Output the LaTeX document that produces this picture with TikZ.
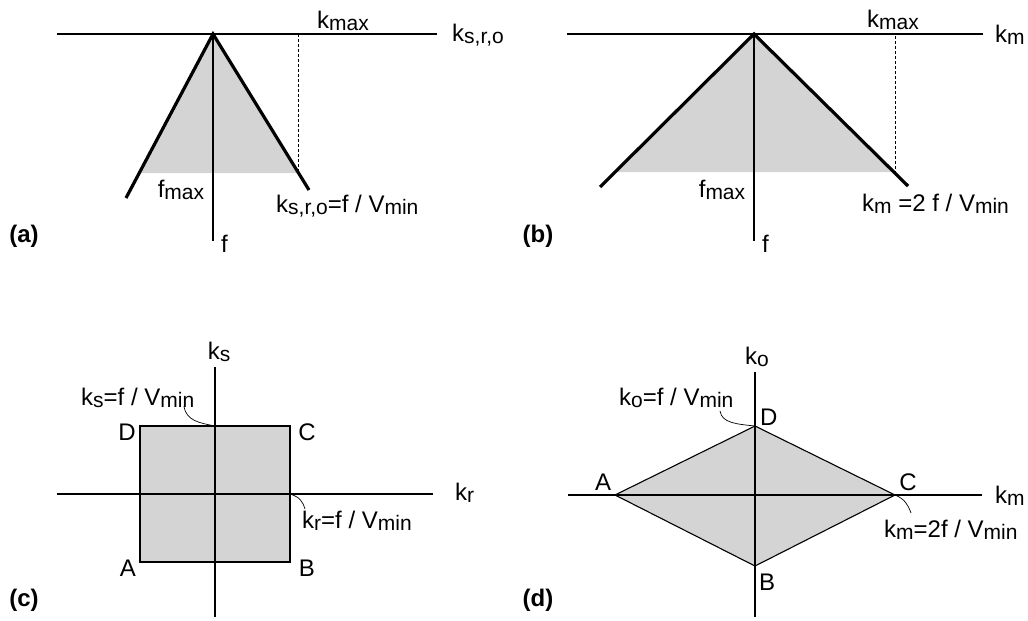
\documentclass[tikz,border=0pt]{standalone}
\usepackage{fontspec}
\setmainfont{Liberation Sans}
\newcommand{\lsub}[1]{{\fontsize{21}{21}\selectfont\raisebox{-1.5pt}{#1}}}
\begin{document}
\begin{tikzpicture}[x=1pt,y=-1pt,
 lbl/.style={inner sep=0pt,font=\fontsize{24}{26}\selectfont},
 panel/.style={inner sep=0pt,font=\fontsize{24}{26}\selectfont\bfseries},
 axis/.style={line width=1.5pt},
 heavy/.style={line width=3.2pt},
 edge/.style={line width=1.1pt},
 shade/.style={fill=black!17},
 lead/.style={line width=0.7pt},
 guide/.style={densely dashed,line width=0.7pt}]
\useasboundingbox (0,0) rectangle (1028,621);
% ---------- (a)
\coordinate (aO) at (213,34);
\coordinate (aL) at (57,34); \coordinate (aR) at (437,34);
\coordinate (aF) at (213,241);
\coordinate (aLe) at (126,198);
\coordinate (aRe) at (309,190);
\coordinate (aSL) at (139,173);
\coordinate (aSR) at (298.5,173);
\coordinate (aGt) at (298.5,34);
\fill[shade] (aO) -- (aSL) -- (aSR) -- cycle;
\draw[axis] (aL) -- (aR);
\draw[axis] (aO) -- (aF);
\draw[heavy] (aLe) -- (aO) -- (aRe);
\draw[guide] (aGt) -- (aSR);
\node[lbl,anchor=west] (aAx) at (452,35) {k\lsub{s,r,o}};
\node[lbl] (aKmax) at (343,21) {k\lsub{max}};
\node[lbl] (aFmax) at (181,190) {f\lsub{max}};
\node[lbl,anchor=west] (aF1) at (221,244) {f};
\node[lbl,anchor=west] (aEq) at (276,206) {k\lsub{s,r,o}=f / V\lsub{min}};
\node[panel] (aP) at (24,236) {(a)};
% ---------- (b)
\coordinate (bO) at (754,34);
\coordinate (bL) at (567,34); \coordinate (bR) at (983,34);
\coordinate (bF) at (754,241);
\coordinate (bLe) at (600,187);
\coordinate (bRe) at (908,186);
\coordinate (bSL) at (615,172);
\coordinate (bSR) at (895,172);
\coordinate (bGt) at (895,36);
\fill[shade] (bO) -- (bSL) -- (bSR) -- cycle;
\draw[axis] (bL) -- (bR);
\draw[axis] (bO) -- (bF);
\draw[heavy] (bLe) -- (bO) -- (bRe);
\draw[guide] (bGt) -- (bSR);
\node[lbl,anchor=west] (bAx) at (995,35) {k\lsub{m}};
\node[lbl] (bKmax) at (893,20) {k\lsub{max}};
\node[lbl] (bFmax) at (722,190) {f\lsub{max}};
\node[lbl,anchor=west] (bF1) at (762,244) {f};
\node[lbl,anchor=west] (bEq) at (862,204) {k\lsub{m} =2 f / V\lsub{min}};
\node[panel] (bP) at (538,236) {(b)};
% ---------- (c)
\coordinate (cO) at (215,494);
\coordinate (cT) at (215,367); \coordinate (cB) at (215,617);
\coordinate (cL) at (57,494); \coordinate (cR) at (433,494);
\coordinate (cA) at (140,562); \coordinate (cBB) at (290,562);
\coordinate (cC) at (290,426); \coordinate (cD) at (140,426);
\coordinate (cTop) at (215,426); \coordinate (cRt) at (290,494);
\filldraw[shade,edge] (cA) -- (cBB) -- (cC) -- (cD) -- cycle;
\draw[axis] (cL) -- (cR);
\draw[axis] (cT) -- (cB);
\node[lbl] (cKs) at (219,352) {k\lsub{s}};
\node[lbl,anchor=west] (cKr) at (455,493) {k\lsub{r}};
\node[lbl,anchor=west] (cEq1) at (81,398) {k\lsub{s}=f / V\lsub{min}};
\node[lbl,anchor=west] (cEq2) at (302,521) {k\lsub{r}=f / V\lsub{min}};
\coordinate (cLd1) at (184,406);
\coordinate (cLd2) at (305,509);
\draw[lead] (cLd1) .. controls (186,421) and (200,423) .. (cTop);
\draw[lead] (cRt) .. controls (300,497) and (303,502) .. (cLd2);
\node[lbl] (cLD) at (127,432) {D};
\node[lbl] (cLC) at (307,432) {C};
\node[lbl] (cLA) at (128,568) {A};
\node[lbl] (cLB) at (307,568) {B};
\node[panel] (cP) at (24,600) {(c)};
% ---------- (d)
\coordinate (dT) at (755,372); \coordinate (dB) at (755,617);
\coordinate (dL) at (568,495); \coordinate (dR) at (982,495);
\coordinate (dA) at (615,495); \coordinate (dC) at (895,495);
\coordinate (dD) at (755,426); \coordinate (dBB) at (755,566);
\filldraw[shade,edge] (dA) -- (dBB) -- (dC) -- (dD) -- cycle;
\draw[axis] (dL) -- (dR);
\draw[axis] (dT) -- (dB);
\node[lbl] (dKo) at (757,357) {k\lsub{o}};
\node[lbl,anchor=west] (dKm) at (995,496) {k\lsub{m}};
\node[lbl,anchor=west] (dEq1) at (619,398) {k\lsub{o}=f / V\lsub{min}};
\node[lbl,anchor=west] (dEq2) at (884,530) {k\lsub{m}=2f / V\lsub{min}};
\coordinate (dLd1) at (720,411);
\coordinate (dLd2) at (911,513);
\draw[lead] (dLd1) .. controls (722,423) and (736,424) .. (dD);
\draw[lead] (dC) .. controls (905,499) and (908,505) .. (dLd2);
\node[lbl,anchor=west] (dLD) at (760,417) {D};
\node[lbl] (dLA) at (603,482) {A};
\node[lbl] (dLC) at (908,482) {C};
\node[lbl] (dLB) at (767,582) {B};
\node[panel] (dP) at (538,600) {(d)};
\end{tikzpicture}
\end{document}
